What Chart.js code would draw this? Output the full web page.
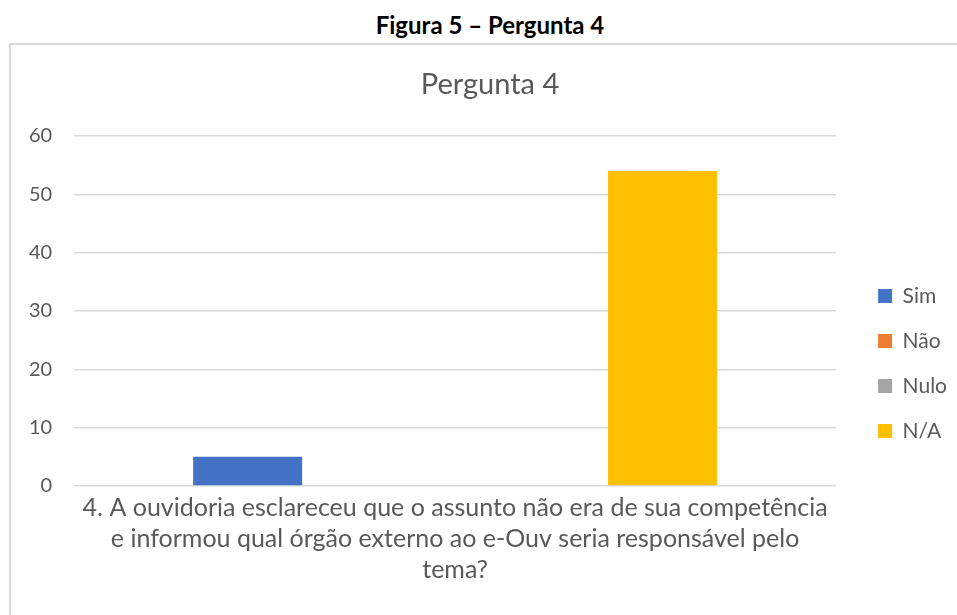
<!DOCTYPE html>
<html><head><meta charset="utf-8">
<script src="https://cdn.jsdelivr.net/npm/chart.js@4.4.1/dist/chart.umd.min.js"></script>
<style>
html,body{margin:0;padding:0;background:#fff;width:957px;height:615px;overflow:hidden;position:relative;font-family:Lato,sans-serif}
#fig{position:absolute;left:0;width:980px;top:8px;text-align:center;font-weight:bold;font-size:24px;color:#000;line-height:34px}
#box{position:absolute;left:9px;top:43px;width:2000px;height:2000px;border-left:2px solid #dadada;border-top:2px solid #dadada}
#c{position:absolute;top:0}
</style></head><body>
<div id="fig">Figura 5 – Pergunta 4</div>
<div id="box"></div>
<canvas id="c" width="924" height="615"></canvas>
<script>
// ---- data ----
const categories = [["4. A ouvidoria esclareceu que o assunto não era de sua competência",
                     "e informou qual órgão externo ao e-Ouv seria responsável pelo",
                     "tema?"]];
const seriesNames = ["Sim", "Não", "Nulo", "N/A"];
const simValues  = [5];
const naoValues  = [0];
const nuloValues = [0];
const naValues   = [54];
const yMin = 0, yMax = 60, yStep = 10;
const chartTitle = "Pergunta 4";

// ---- style ----
const seriesColors = ["#4472C4", "#ED7D31", "#A5A5A5", "#FFC000"];
const seriesValues = [simValues, naoValues, nuloValues, naValues];
const textColor = "#595959";

Chart.defaults.font.family = "Lato, sans-serif";
Chart.defaults.color = textColor;

function config(yAxisWidth) {
  return {
    type: "bar",
    data: {
      labels: categories,
      datasets: seriesNames.map((n, i) => ({
        label: n,
        data: seriesValues[i],
        backgroundColor: seriesColors[i],
        borderWidth: 0,
        barPercentage: 0.788,
        categoryPercentage: 0.726
      }))
    },
    options: {
      responsive: false,
      animation: false,
      layout: { padding: { left: 0, right: 0, top: 40, bottom: 29 } },
      plugins: {
        title: {
          display: true, text: chartTitle, color: textColor,
          font: { size: 29, weight: "normal", lineHeight: 1.2 },
          padding: { top: 27.6, bottom: 33.6 }
        },
        legend: {
          position: "right", fullSize: false,
          title: { display: true, text: " ", font: { size: 20, lineHeight: 1.2 }, padding: { top: 81, bottom: 0 } },
          labels: { boxWidth: 14, boxHeight: 14, padding: 24, color: textColor, font: { size: 21 } }
        },
        tooltip: { enabled: false }
      },
      scales: {
        x: {
          grid: { display: false, drawTicks: false },
          border: { display: false },
          ticks: { color: textColor, font: { size: 25, lineHeight: 1.24 }, padding: 6, maxRotation: 0, autoSkip: false },
          afterFit: s => { s.height = 100; }
        },
        y: {
          min: yMin, max: yMax,
          grid: { color: "#d9d9d9", lineWidth: 1.5, drawTicks: false },
          border: { display: false },
          ticks: { stepSize: yStep, color: textColor, font: { size: 20 }, padding: 22 },
          afterFit: s => { s.width = yAxisWidth; }
        },
        gap: {
          type: "linear", position: "right", display: true,
          grid: { display: false }, border: { display: false },
          ticks: { display: false },
          afterFit: s => { s.width = 18; }
        }
      }
    }
  };
}

const canvas = document.getElementById("c");
function makeChart(cx, W) {
  canvas.width = W; canvas.height = 615;
  canvas.style.left = cx + "px";
  return new Chart(canvas, config(74 - cx));
}
let chart = makeChart(28, 924);
const legendW = chart.legend.width;
chart.destroy();
const W = Math.round(2 * (364 + legendW));
const cx = 854 + legendW - W;
chart = makeChart(cx, W);
</script>
</body></html>
